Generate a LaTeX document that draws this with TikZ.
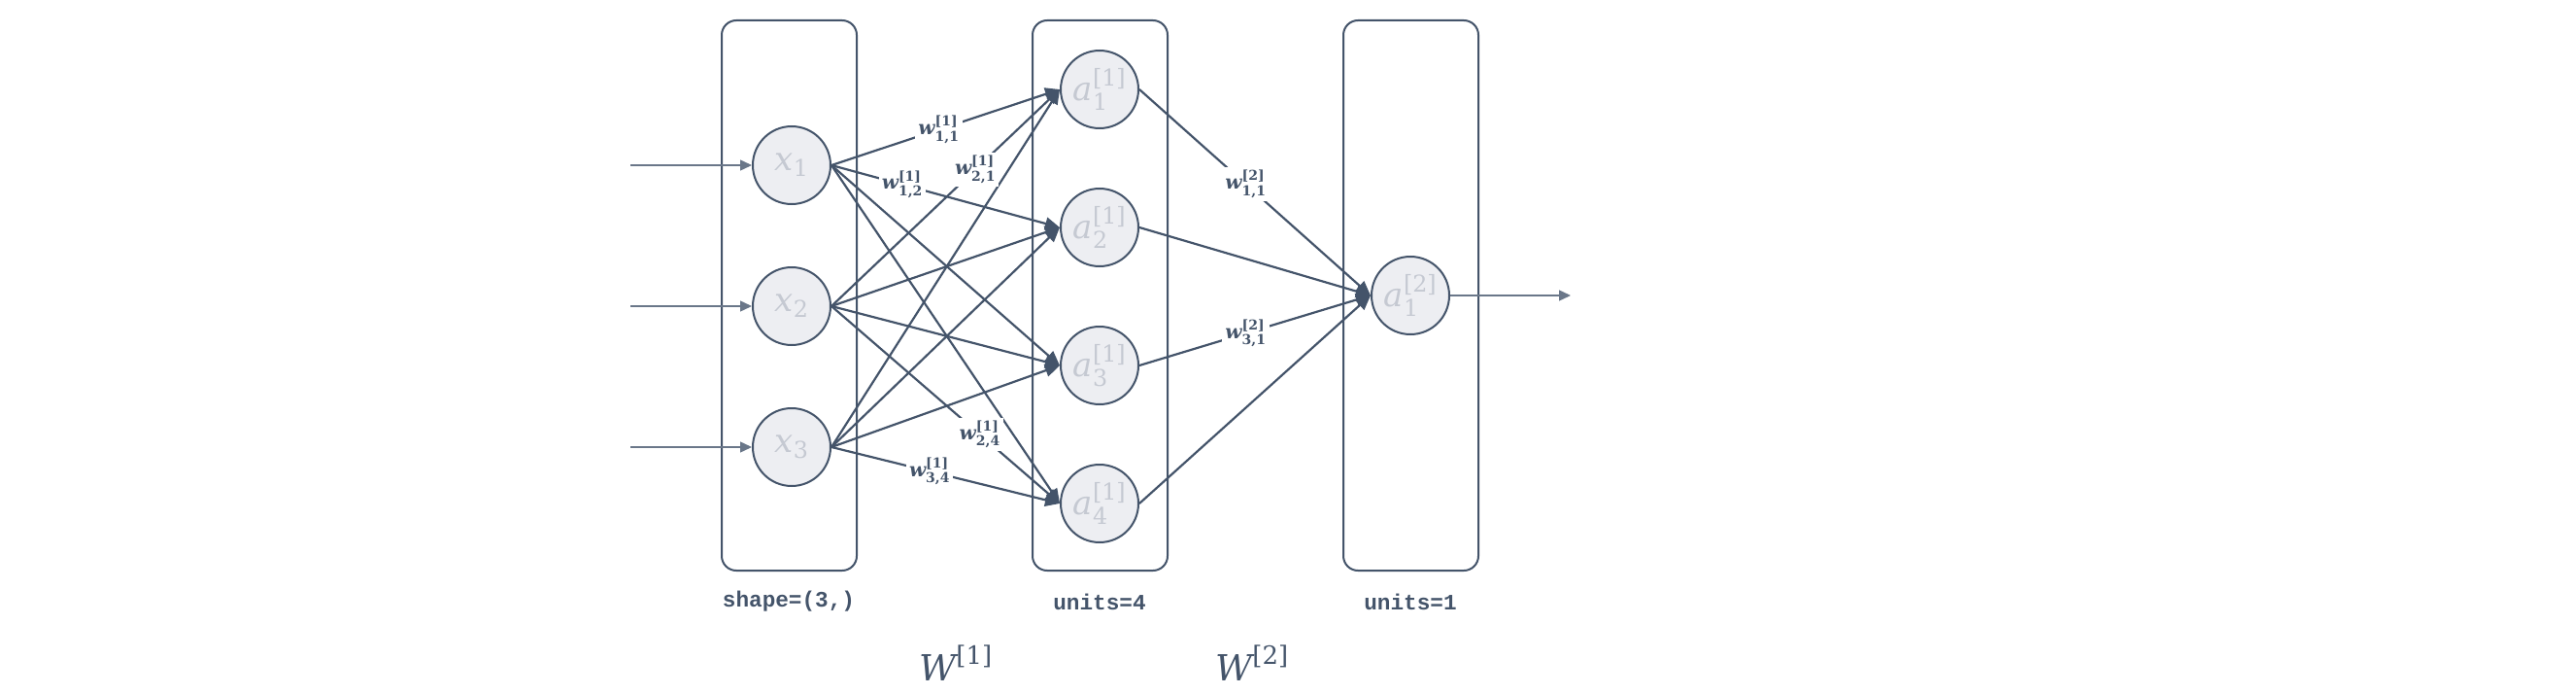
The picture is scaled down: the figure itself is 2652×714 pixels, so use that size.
\RequirePackage{fix-cm}
\documentclass[tikz,border=0pt]{standalone}
\usepackage{amsmath}
\usepackage{fontspec}
\newfontfamily\codefont{Liberation Mono}
\newfontfamily\dvs{DejaVu Serif}
\newcommand{\vi}[1]{\text{\dvs\itshape #1}}
\newcommand{\vr}[1]{\text{\dvs #1}}
\newcommand{\vbi}[1]{\text{\dvs\bfseries\itshape #1}}
\newcommand{\vb}[1]{\text{\dvs\bfseries #1}}
\newcommand{\wlab}[3]{$\vbi{w}^{\vb{[#1]}}_{\vb{#2,#3}}$}
\usetikzlibrary{arrows.meta}
\definecolor{slate}{HTML}{44546A}
\definecolor{nodefill}{HTML}{EDEEF2}
\definecolor{nodetext}{HTML}{C5C9D2}
\definecolor{feedcol}{HTML}{6A7789}
\begin{document}
\begin{tikzpicture}[x=1pt,y=-1pt,
  layerbox/.style={draw=slate, line width=2pt, rounded corners=15pt, minimum width=139pt, minimum height=566pt, inner sep=0pt},
  neuron/.style={circle, draw=slate, fill=nodefill, line width=2pt, minimum size=80pt, inner sep=0pt, text=nodetext, font=\fontsize{34}{38}\selectfont},
  conn/.style={draw=slate, line width=2.2pt, -{Triangle[length=15pt,width=13pt]}},
  feed/.style={draw=feedcol, line width=1.4pt, -{Triangle[length=12pt,width=11pt]}},
  wlabel/.style={fill=white, inner sep=3pt, text=slate, font=\fontsize{20}{22}\selectfont},
  caption/.style={text=slate, inner sep=0pt, font=\codefont\bfseries\fontsize{22.7}{26}\selectfont},
  wbig/.style={text=slate, inner sep=0pt, font=\fontsize{37}{42}\selectfont}
]
\useasboundingbox (0,0) rectangle (2652,714);

% layer boxes
\node[layerbox] (L1) at (812.5,304) {};
\node[layerbox] (L2) at (1132.5,304) {};
\node[layerbox] (L3) at (1452.5,304) {};

% captions
\node[caption] (c1) at (812,619) {shape=(3,)};
\node[caption] (c2) at (1132,619) {units=4};
\node[caption] (c3) at (1452,619) {units=1};
\node[wbig] (W1) at (984,682) {$\vi{W}^{\vr{[1]}}$};
\node[wbig] (W2) at (1289,682) {$\vi{W}^{\vr{[2]}}$};

% neurons
\node[neuron] (x1) at (815,170) {$\vi{x}_{\vr{1}}$};
\node[neuron] (x2) at (815,315) {$\vi{x}_{\vr{2}}$};
\node[neuron] (x3) at (815,460) {$\vi{x}_{\vr{3}}$};
\node[neuron] (a1) at (1132,92) {$\vi{a}^{\vr{[1]}}_{\vr{1}}$};
\node[neuron] (a2) at (1132,234) {$\vi{a}^{\vr{[1]}}_{\vr{2}}$};
\node[neuron] (a3) at (1132,376) {$\vi{a}^{\vr{[1]}}_{\vr{3}}$};
\node[neuron] (a4) at (1132,518) {$\vi{a}^{\vr{[1]}}_{\vr{4}}$};
\node[neuron] (o1) at (1452,304) {$\vi{a}^{\vr{[2]}}_{\vr{1}}$};

% inputs / output
\coordinate (in1) at (649,170);
\coordinate (in2) at (649,315);
\coordinate (in3) at (649,460);
\coordinate (out) at (1617,304);
\draw[feed] (in1) -- (x1.west);
\draw[feed] (in2) -- (x2.west);
\draw[feed] (in3) -- (x3.west);
\draw[feed] (o1.east) -- (out);

% layer 1 connections
\foreach \i in {1,2,3}{
  \foreach \j in {1,2,3,4}{
    \draw[conn] (x\i.east) -- (a\j.west);
  }
}
% layer 2 connections
\foreach \j in {1,2,3,4}{
  \draw[conn] (a\j.east) -- (o1.west);
}

% weight labels
\path (x1.east) -- (a1.west) node[wlabel,pos=0.47] (w11) {\wlab{1}{1}{1}};
\path (x1.east) -- (a2.west) node[wlabel,pos=0.31] (w12) {\wlab{1}{1}{2}};
\path (x2.east) -- (a1.west) node[wlabel,pos=0.63] (w21) {\wlab{1}{2}{1}};
\path (x2.east) -- (a4.west) node[wlabel,pos=0.65] (w24) {\wlab{1}{2}{4}};
\path (x3.east) -- (a4.west) node[wlabel,pos=0.43] (w34) {\wlab{1}{3}{4}};
\path (a1.east) -- (o1.west) node[wlabel,pos=0.46] (v11) {\wlab{2}{1}{1}};
\path (a3.east) -- (o1.west) node[wlabel,pos=0.46] (v31) {\wlab{2}{3}{1}};
\end{tikzpicture}
\end{document}
